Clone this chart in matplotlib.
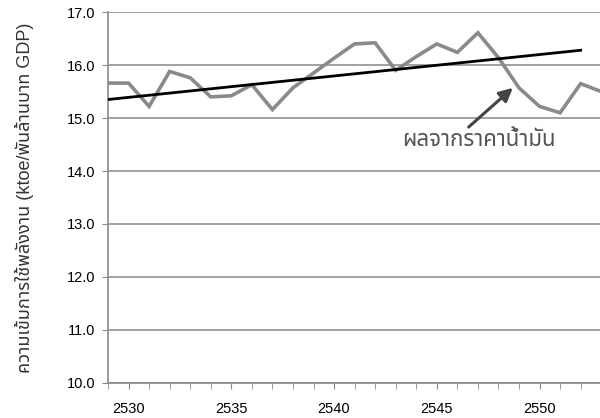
import numpy as np
import matplotlib
matplotlib.use('Agg')
import matplotlib.pyplot as plt
from matplotlib.ticker import MultipleLocator, FormatStrFormatter

plt.rcParams['font.family'] = ['Liberation Sans', 'Noto Sans Thai', 'DejaVu Sans']

# energy intensity per year (Thai Buddhist era)
years = list(range(2529, 2554))
intensity = [15.66, 15.66, 15.22, 15.88, 15.76, 15.40, 15.42, 15.63, 15.16, 15.57,
             15.85, 16.13, 16.40, 16.42, 15.90, 16.16, 16.40, 16.24, 16.61, 16.14,
             15.57, 15.22, 15.10, 15.65, 15.50]

# linear trend line end points
trend_years = [2529, 2552]
trend_vals = [15.35, 16.28]

ylabel = 'ความเข้มการใช้พลังงาน (ktoe/พันล้านบาท GDP)'
note = 'ผลจากราคาน้ำมัน'

fig = plt.figure(figsize=(6, 4.18), dpi=100)
ax = fig.add_axes([0.18, 0.084, 0.822, 0.887])

ax.plot(years, intensity, color='#8a8a8a', lw=2.6, zorder=3, solid_joinstyle='miter')
ax.plot(trend_years, trend_vals, color='black', lw=2.0, zorder=4)

ax.set_xlim(2529, 2553)
ax.set_ylim(10, 17)
ax.yaxis.set_major_locator(MultipleLocator(1))
ax.yaxis.set_major_formatter(FormatStrFormatter('%.1f'))
ax.xaxis.set_minor_locator(MultipleLocator(1))
ax.set_xticks([2530, 2535, 2540, 2545, 2550])

ax.grid(axis='y', color='#9a9a9a', lw=1.3)
ax.set_axisbelow(True)
for s in ['top', 'right']:
    ax.spines[s].set_visible(False)
for s in ['left', 'bottom']:
    ax.spines[s].set_color('#8a8a8a')
    ax.spines[s].set_linewidth(1.2)

ax.tick_params(axis='y', length=4, color='#8a8a8a', labelsize=10.5, pad=5, direction='out')
ax.tick_params(axis='x', which='both', length=4, color='#8a8a8a', labelsize=10.5, pad=10, direction='out')

ax.set_ylabel(ylabel, fontsize=13, color='#333333', labelpad=24)

ax.annotate('', xy=(2548.7, 15.57), xytext=(2546.55, 14.83),
            arrowprops=dict(arrowstyle='-|>', color='#444444', lw=2.2, mutation_scale=20,
                            shrinkA=0, shrinkB=0))
ax.text(2547.05, 14.57, note, fontsize=16, color='#555555', ha='center', va='center')

fig.savefig('out.png', dpi=100)
